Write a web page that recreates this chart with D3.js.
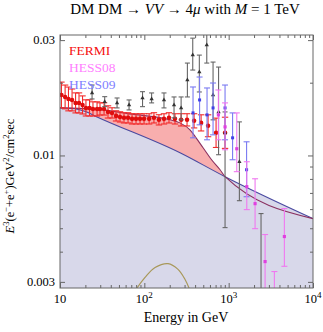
<!DOCTYPE html>
<html><head><meta charset="utf-8">
<script src="https://cdn.jsdelivr.net/npm/d3@7"></script>
<style>
body{margin:0;background:#fff;}
text{font-family:"Liberation Serif","Times New Roman",serif;fill:#000;}
</style></head><body>
<script>
// background (lavender) and background+signal (red band) curves
const bgE = [10, 15, 20, 27.5, 265, 906, 10000];
const bgFlux = [0.01573, 0.0156, 0.0152, 0.01444, 0.01026, 0.00817, 0.00548];
const sumE = [10, 24.6, 67.7, 202, 265, 348, 399, 497, 627, 791, 906, 10000];
const sumFlux = [0.01573, 0.01558, 0.01486, 0.01404, 0.01364, 0.01276, 0.012, 0.01076, 0.0096, 0.00873, 0.00817, 0.00548];
// small olive curve at the bottom
const bumpE = [70, 81.9, 102, 134, 191, 251, 304, 339, 370];
const bumpFlux = [0.0026, 0.00283, 0.00313, 0.00344, 0.00357, 0.00338, 0.00307, 0.00283, 0.0026];

// FERMI
const fermiE = [10.4, 11.5, 12.6, 13.9, 15.3, 16.8, 18.5, 20.3, 22.4, 24.6, 27.5, 29.8, 33.3, 37.1, 41.4, 46.2, 51.5, 57.4, 64.1, 71.5, 79.7, 88.9, 99.2, 114, 130, 149, 171, 196, 231, 273, 321, 389, 471, 570, 709, 906];
const fermiFlux = [0.0178, 0.01746, 0.01713, 0.01697, 0.0165, 0.0165, 0.01618, 0.01573, 0.01573, 0.01558, 0.01558, 0.01558, 0.01558, 0.01514, 0.015, 0.01458, 0.01444, 0.01431, 0.01431, 0.01417, 0.01417, 0.01417, 0.01417, 0.01417, 0.01431, 0.01404, 0.01417, 0.01431, 0.01417, 0.01404, 0.01404, 0.01391, 0.01364, 0.01327, 0.01241, 0.01241];
const fermiErr = [0.13, 0.12, 0.12, 0.11, 0.10, 0.10, 0.09, 0.08, 0.08, 0.07, 0.07, 0.06, 0.06, 0.06, 0.05, 0.05, 0.05, 0.05, 0.05, 0.05, 0.05, 0.05, 0.05, 0.05, 0.05, 0.05, 0.05, 0.05, 0.05, 0.06, 0.06, 0.07, 0.08, 0.11, 0.15, 0.16];

// black points (no legend entry)
const atE = [24.0, 33.9, 47.5, 65.9, 95.2, 122, 171, 225, 273, 324, 375, 449, 550, 653, 759, 906, 1340, 2420];
const atFlux = [0.01814, 0.01669, 0.0165, 0.01618, 0.01729, 0.01713, 0.01697, 0.01618, 0.01573, 0.02052, 0.02601, 0.02213, 0.02861, 0.0178, 0.01514, 0.01241, 0.00942, 0.00266];
const atHi = [0.01956, 0.01751, 0.01729, 0.01697, 0.01836, 0.01814, 0.01814, 0.01746, 0.01746, 0.02411, 0.03057, 0.02601, 0.03206, 0.02434, 0.02321, 0.01514, 0.01377, 0.00575];
const atLo = [0.01713, 0.01592, 0.01573, 0.01543, 0.01592, 0.0165, 0.01573, 0.01431, 0.01404, 0.01746, 0.02256, 0.01831, 0.02411, 0.01404, 0.01007, 0.00503, 0.0065, 0.00174];

// HESS09
const h09E = [378, 452, 554, 653, 906, 1113, 1631];
const h09Flux = [0.015, 0.01697, 0.01472, 0.01573, 0.01573, 0.01183, 0.00873];
const h09Hi = [0.0192, 0.02111, 0.01902, 0.01994, 0.01956, 0.015, 0.01139];
const h09Lo = [0.01183, 0.01339, 0.01161, 0.01217, 0.01161, 0.0096, 0.00675];

// HESS08
const h08E = [755, 906, 1248, 1640, 2057, 2703, 3484, 4578];
const h08Flux = [0.01472, 0.01313, 0.01066, 0.00743, 0.00632, 0.00364, 0.00254, 0.00462];
const h08Hi = [0.01866, 0.0165, 0.015, 0.00942, 0.00801, 0.00471, 0.00331, 0.00603];
const h08Lo = [0.01161, 0.01056, 0.00857, 0.00597, 0.00498, 0.00266, 0.00191, 0.00348];

const xMajor = [10, 100, 1000, 10000];
const xLabels = [["10", ""], ["10", "2"], ["10", "3"], ["10", "4"]];
const xMinor = [20, 30, 40, 50, 60, 70, 80, 90, 200, 300, 400, 500, 600, 700, 800, 900, 2000, 3000, 4000, 5000, 6000, 7000, 8000, 9000];
const yMajor = [0.003, 0.01, 0.03];
const yLabels = ["0.003", "0.01", "0.03"];
const yMinor = [0.004, 0.005, 0.006, 0.007, 0.008, 0.009, 0.02];

const legendNames = ["FERMI", "HESS08", "HESS09"];
const legendColors = ["#f51010", "#ff80ff", "#8080ff"];

const W = 323, H = 332;
const L = 60, R = 313, T = 35, B = 288;

const svg = d3.select("body").append("svg").attr("width", W).attr("height", H);
const x = d3.scaleLog().domain([10, 1e4]).range([L, R]);
const y = d3.scaleLog().domain([0.00283, 0.0315]).range([B, T]);

svg.append("clipPath").attr("id", "clip").append("rect")
  .attr("x", L).attr("y", T).attr("width", R - L).attr("height", B - T);
const plot = svg.append("g").attr("clip-path", "url(#clip)");

const pts = (es, vs) => es.map((e, i) => ({ e: e, v: vs[i] }));
const bg = pts(bgE, bgFlux);
const sum = pts(sumE, sumFlux);

// red band = sum area, then lavender covers the background part
plot.append("path").datum(sum)
  .attr("d", d3.area().x(d => x(d.e)).y0(B).y1(d => y(d.v)).curve(d3.curveMonotoneX))
  .attr("fill", "#f8aeae");
plot.append("path").datum(bg)
  .attr("d", d3.area().x(d => x(d.e)).y0(B).y1(d => y(d.v)).curve(d3.curveMonotoneX))
  .attr("fill", "#d8d8ea");

const line = d3.line().x(d => x(d.e)).y(d => y(d.v)).curve(d3.curveMonotoneX);
plot.append("path").datum(bg).attr("d", line)
  .attr("fill", "none").attr("stroke", "#4a4aa0").attr("stroke-width", 1.1);
plot.append("path").datum(sum).attr("d", line)
  .attr("fill", "none").attr("stroke", "#8a3060").attr("stroke-width", 1.1);

plot.append("path").datum(pts(bumpE, bumpFlux))
  .attr("d", d3.line().x(d => x(d.e)).y(d => y(d.v)).curve(d3.curveCatmullRom))
  .attr("fill", "none").attr("stroke", "#a8985a").attr("stroke-width", 1.2);

// error bar series
function drawSeries(data, barColor, markColor, shape, cap, size) {
  const g = plot.append("g");
  const s = g.selectAll("g").data(data).enter().append("g");
  s.append("line")
    .attr("x1", d => x(d.e)).attr("x2", d => x(d.e))
    .attr("y1", d => y(d.hi)).attr("y2", d => y(d.lo))
    .attr("stroke", barColor).attr("stroke-width", 1.1);
  s.append("line")
    .attr("x1", d => x(d.e) - cap).attr("x2", d => x(d.e) + cap)
    .attr("y1", d => y(d.hi)).attr("y2", d => y(d.hi))
    .attr("stroke", barColor).attr("stroke-width", 1.1);
  s.append("line")
    .attr("x1", d => x(d.e) - cap).attr("x2", d => x(d.e) + cap)
    .attr("y1", d => y(d.lo)).attr("y2", d => y(d.lo))
    .attr("stroke", barColor).attr("stroke-width", 1.1);
  s.append("path")
    .attr("transform", d => `translate(${x(d.e)},${y(d.v)})`)
    .attr("d", d3.symbol().type(shape).size(size))
    .attr("fill", markColor);
}

drawSeries(fermiE.map((e, i) => ({ e: e, v: fermiFlux[i], hi: fermiFlux[i] * (1 + fermiErr[i]), lo: fermiFlux[i] / (1 + fermiErr[i]) })),
  "#f22a2a", "#e00c0c", d3.symbolCircle, 3.2, 16);
drawSeries(atE.map((e, i) => ({ e: e, v: atFlux[i], hi: atHi[i], lo: atLo[i] })),
  "#666", "#333", d3.symbolTriangle, 2.5, 8);
drawSeries(h09E.map((e, i) => ({ e: e, v: h09Flux[i], hi: h09Hi[i], lo: h09Lo[i] })),
  "#7a7af2", "#4040e8", d3.symbolSquare, 3, 9);
drawSeries(h08E.map((e, i) => ({ e: e, v: h08Flux[i], hi: h08Hi[i], lo: h08Lo[i] })),
  "#f078f0", "#e040e0", d3.symbolSquare, 3, 10);

// frame and inward ticks on all four sides
const frame = svg.append("g");
frame.append("rect").attr("x", L).attr("y", T).attr("width", R - L).attr("height", B - T)
  .attr("fill", "none").attr("stroke", "#666").attr("stroke-width", 1);

function ticks(axisFn, scale, pos, vals, len) {
  frame.append("g").attr("transform", pos)
    .call(axisFn(scale).tickValues(vals).tickSize(len).tickFormat(""))
    .call(g => g.select(".domain").remove())
    .call(g => g.selectAll("line").attr("stroke", "#666"));
}
ticks(d3.axisBottom, x, `translate(0,${B})`, xMajor, -5);
ticks(d3.axisBottom, x, `translate(0,${B})`, xMinor, -3);
ticks(d3.axisTop, x, `translate(0,${T})`, xMajor, -5);
ticks(d3.axisTop, x, `translate(0,${T})`, xMinor, -3);
ticks(d3.axisLeft, y, `translate(${L},0)`, yMajor, -5);
ticks(d3.axisLeft, y, `translate(${L},0)`, yMinor, -3);
ticks(d3.axisRight, y, `translate(${R},0)`, yMajor, -5);
ticks(d3.axisRight, y, `translate(${R},0)`, yMinor, -3);

// tick labels
xMajor.forEach((v, i) => {
  const t = svg.append("text").attr("x", x(v)).attr("y", 303).attr("text-anchor", "middle")
    .attr("font-size", 12.5);
  t.append("tspan").text(xLabels[i][0]);
  if (xLabels[i][1]) t.append("tspan").attr("font-size", 9).attr("dy", -5).text(xLabels[i][1]);
});
yMajor.forEach((v, i) => {
  svg.append("text").attr("x", L - 5).attr("y", y(v) + 4).attr("text-anchor", "end")
    .attr("font-size", 12.5).text(yLabels[i]);
});

// title
const title = svg.append("text").attr("x", 185).attr("y", 14).attr("text-anchor", "middle").attr("font-size", 15);
title.append("tspan").text("DM DM \u2192 ");
title.append("tspan").attr("font-style", "italic").text("VV");
title.append("tspan").text(" \u2192 4");
title.append("tspan").attr("font-style", "italic").text("\u03bc");
title.append("tspan").text(" with ");
title.append("tspan").attr("font-style", "italic").text("M");
title.append("tspan").text(" = 1 TeV");

// axis labels
svg.append("text").attr("x", 186).attr("y", 322).attr("text-anchor", "middle")
  .attr("font-size", 14).text("Energy in GeV");

const yl = svg.append("text").attr("transform", "translate(14,176) rotate(-90)")
  .attr("text-anchor", "middle").attr("font-size", 12.5);
const ylParts = [["E", "i"], ["3", "s"], ["(e", ""], ["\u2212", "s"], ["+e", ""], ["+", "s"], [")GeV", ""], ["2", "s"], ["/cm", ""], ["2", "s"], ["sec", ""]];
ylParts.forEach(p => {
  const ts = yl.append("tspan").text(p[0]);
  if (p[1] === "i") ts.attr("font-style", "italic");
  if (p[1] === "s") ts.attr("baseline-shift", "super").attr("font-size", 8.5);
});

// legend
legendNames.forEach((n, i) => {
  svg.append("text").attr("x", 69).attr("y", 55 + i * 17)
    .attr("font-size", 13.5).style("fill", legendColors[i]).text(n);
});
</script>
</body></html>
